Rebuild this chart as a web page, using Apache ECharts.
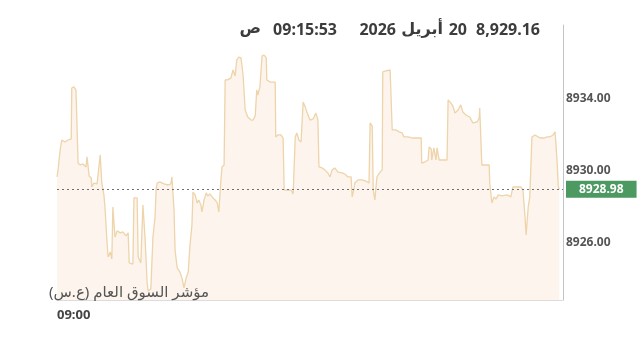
<!DOCTYPE html>
<html><head><meta charset="utf-8">
<script src="https://cdn.jsdelivr.net/npm/echarts@6/dist/echarts.min.js"></script>
<style>html,body{margin:0;padding:0;background:#fff}#c{width:640px;height:345px}</style>
</head><body><div id="c"></div>
<script>
// seconds after 09:00
const times = [0,2,6,9,15,21,27,28,32,36,38,40,44,49,55,57,61,65,66,70,76,82,85,89,91,95,97,101,104,106,110,114,120,125,131,135,137,144,146,152,154,159,163,167,171,173,178,182,186,188,190,195,203,211,216,218,222,224,228,233,237,241,245,249,252,256,258,262,266,269,273,275,279,283,286,290,296,300,304,307,309,311,313,317,319,324,330,334,338,341,345,349,351,353,357,362,368,372,376,379,381,385,389,393,397,398,404,414,415,419,425,429,431,438,444,448,452,455,459,463,467,471,474,480,486,491,495,497,503,508,514,518,522,527,533,541,546,552,558,560,563,565,571,579,586,592,594,598,600,603,607,613,617,618,624,632,634,636,643,649,655,658,666,675,685,691,692,698,704,706,710,711,715,719,721,725,734,740,742,747,751,755,761,766,770,776,783,789,797,801,802,804,806,814,820,821,825,829,833,837,844,854,861,863,865,873,880,884,888,890,894,897,901,907,913,918,924,930,935,941,945,949,951,953];
const prices = [8929.67,8930.06,8931.17,8931.72,8931.61,8931.72,8931.78,8934.61,8934.67,8934.50,8934.61,8930.44,8930.33,8930.39,8930.22,8930.78,8929.72,8929.61,8929.11,8929.33,8929.28,8930.89,8929.33,8928.67,8928.00,8926.00,8925.22,8925.50,8925.11,8928.00,8926.33,8926.67,8926.56,8926.61,8926.39,8926.56,8924.89,8924.83,8928.50,8928.50,8925.22,8924.89,8928.11,8926.33,8923.78,8923.33,8923.44,8926.33,8927.44,8928.94,8929.33,8929.39,8929.28,8929.22,8929.28,8929.67,8927.83,8925.61,8924.61,8924.39,8924.06,8923.50,8924.06,8924.39,8925.78,8927.00,8928.83,8928.67,8928.22,8928.39,8928.11,8927.72,8928.39,8928.78,8928.61,8928.72,8928.50,8928.39,8928.22,8927.72,8927.61,8929.50,8930.22,8930.33,8935.06,8935.06,8935.17,8935.61,8935.28,8936.17,8936.33,8936.28,8935.83,8935.33,8933.39,8933.00,8932.83,8932.83,8933.06,8934.50,8934.22,8934.67,8936.39,8936.44,8936.28,8935.06,8934.94,8934.94,8931.89,8932.00,8932.00,8931.83,8928.94,8928.94,8928.94,8928.72,8931.89,8932.11,8931.72,8931.61,8933.83,8933.56,8933.28,8932.83,8932.89,8933.22,8932.83,8930.22,8930.17,8930.06,8929.89,8929.67,8930.06,8930.17,8929.94,8929.89,8929.83,8929.67,8929.67,8928.56,8928.94,8929.33,8929.50,8929.50,8929.44,8929.33,8932.67,8932.50,8928.94,8928.39,8929.67,8929.94,8930.06,8935.50,8935.56,8935.61,8935.50,8932.28,8932.28,8932.17,8932.11,8931.89,8931.89,8931.83,8931.83,8931.83,8930.44,8930.50,8930.61,8931.33,8931.22,8930.61,8931.28,8930.61,8931.28,8930.61,8930.61,8930.61,8933.94,8933.78,8933.61,8933.22,8933.39,8933.67,8933.28,8933.11,8933.00,8932.67,8932.72,8932.94,8933.50,8933.44,8930.33,8930.33,8930.33,8929.33,8928.22,8928.56,8928.44,8928.67,8928.61,8928.67,8928.56,8928.56,8929.11,8929.11,8929.11,8928.94,8927.44,8926.44,8928.00,8928.56,8931.89,8932.00,8931.89,8931.83,8931.83,8931.89,8931.89,8932.00,8932.17,8930.44,8929.17,8928.98];
const yTicks = [8926, 8930, 8934];
const xTickLabels = ['09:00'];
const lastPrice = 8928.98;
const headerValue = '8,929.16';
const headerDay = '20';
const headerMonth = 'أبريل';
const headerYear = '2026';
const headerTime = '09:15:53';
const headerAmPm = 'ص';
const indexName = 'مؤشر السوق العام (ع.س)';

const chart = echarts.init(document.getElementById('c'), null, {renderer: 'canvas'});
const FONT = '"Noto Sans", "DejaVu Sans", sans-serif';
const hdr = {fontFamily: FONT, fontSize: 16, fontWeight: 'bold', fill: '#3c3c3c'};
chart.setOption({
  animation: false,
  grid: {left: 57, right: 77, top: 25, bottom: 45},
  xAxis: {
    type: 'value', min: 0, max: 960,
    axisLine: {show: true, onZero: false, lineStyle: {color: '#dcdcdc', width: 1}},
    axisTick: {show: false},
    splitLine: {show: false},
    axisLabel: {customValues: [0], formatter: () => xTickLabels[0], align: 'left', margin: 9,
      color: '#444', fontWeight: 'bold', fontSize: 13, fontFamily: FONT}
  },
  yAxis: {
    type: 'value', position: 'right', min: 8922.83, max: 8938.11, scale: true,
    axisLine: {show: true, onZero: false, lineStyle: {color: '#c4c4c4', width: 1}},
    axisTick: {show: false},
    splitLine: {show: false},
    axisLabel: {customValues: yTicks, formatter: v => v.toFixed(2), margin: 3,
      color: '#555', fontWeight: 'bold', fontSize: 12, fontFamily: FONT}
  },
  series: [{
    type: 'line',
    data: times.map((t, i) => [t, prices[i]]),
    showSymbol: false,
    lineStyle: {color: '#eed4aa', width: 1.3},
    areaStyle: {color: '#fcf4ed', opacity: 1, origin: 'start'},
    markLine: {
      silent: true, symbol: 'none', animation: false,
      lineStyle: {type: [2, 3], color: '#6f6f6f', width: 1.2},
      label: {show: true, position: 'end', distance: 3, formatter: () => lastPrice.toFixed(2),
        backgroundColor: '#4d9962', color: '#fff', fontWeight: 'bold', fontSize: 12,
        fontFamily: FONT, padding: [3, 13, 2, 13]},
      data: [{yAxis: lastPrice}]
    }
  }],
  graphic: [
    {type: 'text', z: 100, right: 640 - 540, top: 22, style: Object.assign({text: headerValue}, hdr)},
    {type: 'text', z: 100, right: 640 - 467, top: 22, style: Object.assign({text: headerDay}, hdr)},
    {type: 'text', z: 100, right: 640 - 443, top: 21, style: Object.assign({text: headerMonth}, hdr)},
    {type: 'text', z: 100, right: 640 - 396, top: 22, style: Object.assign({text: headerYear}, hdr)},
    {type: 'text', z: 100, right: 640 - 337, top: 22, style: Object.assign({text: headerTime}, hdr)},
    {type: 'text', z: 100, right: 640 - 261, top: 20, style: Object.assign({text: headerAmPm}, hdr)},
    {type: 'text', z: 100, right: 640 - 209, top: 285, style: {text: indexName + '\u200F', fontFamily: FONT, fontSize: 15, fill: '#555'}}
  ]
});
</script></body></html>
